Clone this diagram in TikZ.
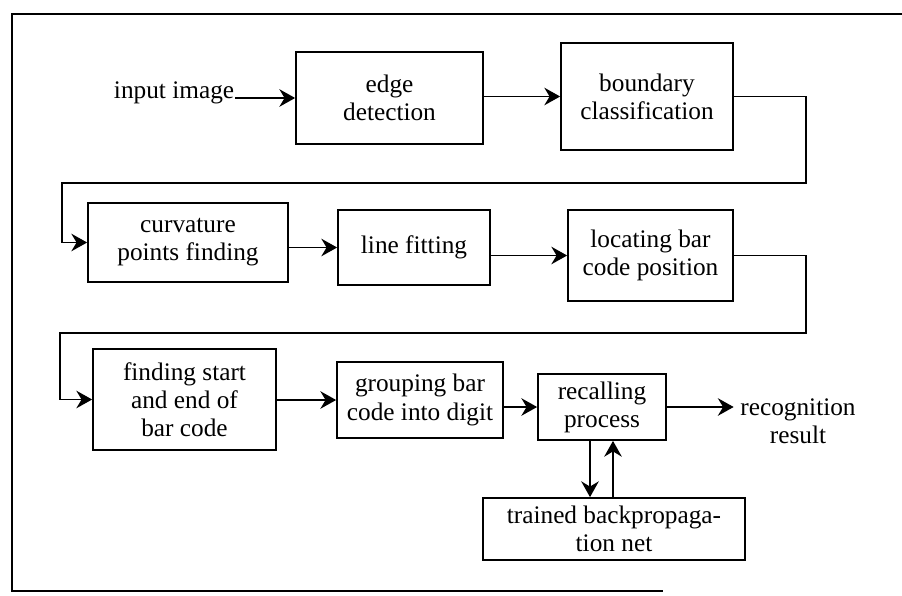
\documentclass[tikz,border=0pt]{standalone}
\usepackage{fontspec}
\setmainfont{Liberation Serif}
\usetikzlibrary{positioning, arrows.meta}

\begin{document}
\begin{tikzpicture}[x=0.02cm, y=-0.02cm, line width=1pt,
    font=\fontsize{14.4}{16}\selectfont,
    blk/.style={rectangle, draw=black, align=center, inner sep=2pt},
    flow/.style={-{Stealth[length=9pt, width=10pt, inset=3pt]}}]
            \useasboundingbox (0, 0) rectangle (902, 595);

            % outer frame
            \draw (902, 14) -- (12, 14) -- (12, 591) -- (663, 591);

            % first row
            \node[anchor=base east, inner sep=0pt] (input) at (235, 98) {input image};
            \node[blk, minimum width=3.74cm, minimum height=1.84cm] (edge) at (389.5, 98) {edge\\detection};
            \node[blk, minimum width=3.44cm, minimum height=2.14cm] (bound) at (647, 96.5) {boundary\\classification};

            % second row
            \node[blk, minimum width=4.00cm, minimum height=1.58cm] (curv) at (188, 242.5) {curvature\\points finding};
            \node[blk, minimum width=3.04cm, minimum height=1.50cm] (line) at (414, 247.5) {line fitting};
            \node[blk, minimum width=3.30cm, minimum height=1.82cm] (locate) at (650.5, 255.5) {locating bar\\code position};

            % third row
            \node[blk, minimum width=3.66cm, minimum height=2.02cm] (start) at (184.5, 399.5) {finding start\\and end of\\bar code};
            \node[blk, minimum width=3.32cm, minimum height=1.52cm] (group) at (420, 400) {grouping bar\\code into digit};
            \node[blk, minimum width=2.56cm, minimum height=1.32cm] (recall) at (602, 407) {recalling\\process};
            \node[align=center] (result) at (798, 421) {recognition\\result};
            \node[blk, minimum width=5.24cm, minimum height=1.24cm] (net) at (614, 529) {trained backpropaga-\\tion net};

            % turning points of the loops
            \coordinate (turnA) at (806, 183);
            \coordinate (turnB) at (62, 183);
            \coordinate (turnC) at (806, 333);
            \coordinate (turnD) at (60, 333);

            \draw[flow] (input.base east) -- (edge.west);
            \draw[flow] (edge.east |- bound.west) -- (bound.west);
            \draw[flow] (bound.east) -| (turnA) -- (turnB) |- (curv.west);
            \draw[flow] (curv.east |- line.west) -- (line.west);
            \draw[flow] (line.east |- locate.west) -- (locate.west);
            \draw[flow] (locate.east) -| (turnC) -- (turnD) |- (start.west);
            \draw[flow] (start.east |- group.west) -- (group.west);
            \draw[flow] (group.east |- recall.west) -- (recall.west);
            \draw[flow] (recall.east) -- (recall.east -| result.west);
            \draw[flow] ([xshift=-2.4mm]recall.south) -- ([xshift=-2.4mm]recall.south |- net.north);
            \draw[flow] ([xshift=2.2mm]recall.south |- net.north) -- ([xshift=2.2mm]recall.south);
        \end{tikzpicture}
\end{document}
